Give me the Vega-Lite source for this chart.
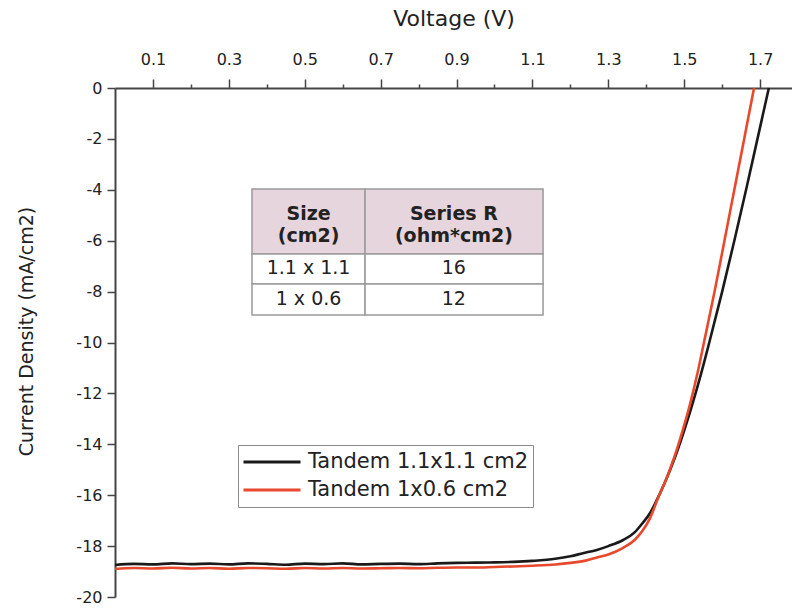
{
  "$schema": "https://vega.github.io/schema/vega-lite/v6.json",
  "width": 677,
  "height": 509,
  "autosize": {"type": "none"},
  "padding": {"left": 115, "top": 88, "right": 0, "bottom": 11},
  "background": "white",
  "config": {"view": {"stroke": null}, "font": "DejaVu Sans"},
  "datasets": {
    "curves": [
      {"s": "Tandem 1.1x1.1 cm2", "v": 0.0, "j": -18.74},
      {"s": "Tandem 1.1x1.1 cm2", "v": 0.05, "j": -18.7},
      {"s": "Tandem 1.1x1.1 cm2", "v": 0.1, "j": -18.72},
      {"s": "Tandem 1.1x1.1 cm2", "v": 0.15, "j": -18.68},
      {"s": "Tandem 1.1x1.1 cm2", "v": 0.2, "j": -18.71},
      {"s": "Tandem 1.1x1.1 cm2", "v": 0.25, "j": -18.69},
      {"s": "Tandem 1.1x1.1 cm2", "v": 0.3, "j": -18.72},
      {"s": "Tandem 1.1x1.1 cm2", "v": 0.35, "j": -18.68},
      {"s": "Tandem 1.1x1.1 cm2", "v": 0.4, "j": -18.7},
      {"s": "Tandem 1.1x1.1 cm2", "v": 0.45, "j": -18.73},
      {"s": "Tandem 1.1x1.1 cm2", "v": 0.5, "j": -18.69},
      {"s": "Tandem 1.1x1.1 cm2", "v": 0.55, "j": -18.71},
      {"s": "Tandem 1.1x1.1 cm2", "v": 0.6, "j": -18.68},
      {"s": "Tandem 1.1x1.1 cm2", "v": 0.65, "j": -18.72},
      {"s": "Tandem 1.1x1.1 cm2", "v": 0.7, "j": -18.7},
      {"s": "Tandem 1.1x1.1 cm2", "v": 0.75, "j": -18.69},
      {"s": "Tandem 1.1x1.1 cm2", "v": 0.8, "j": -18.71},
      {"s": "Tandem 1.1x1.1 cm2", "v": 0.85, "j": -18.68},
      {"s": "Tandem 1.1x1.1 cm2", "v": 0.9, "j": -18.66},
      {"s": "Tandem 1.1x1.1 cm2", "v": 0.95, "j": -18.65},
      {"s": "Tandem 1.1x1.1 cm2", "v": 1.0, "j": -18.64},
      {"s": "Tandem 1.1x1.1 cm2", "v": 1.05, "j": -18.62},
      {"s": "Tandem 1.1x1.1 cm2", "v": 1.1, "j": -18.58},
      {"s": "Tandem 1.1x1.1 cm2", "v": 1.16, "j": -18.5},
      {"s": "Tandem 1.1x1.1 cm2", "v": 1.2, "j": -18.4},
      {"s": "Tandem 1.1x1.1 cm2", "v": 1.233, "j": -18.28},
      {"s": "Tandem 1.1x1.1 cm2", "v": 1.27, "j": -18.15},
      {"s": "Tandem 1.1x1.1 cm2", "v": 1.3, "j": -18.0},
      {"s": "Tandem 1.1x1.1 cm2", "v": 1.339, "j": -17.76},
      {"s": "Tandem 1.1x1.1 cm2", "v": 1.37, "j": -17.45},
      {"s": "Tandem 1.1x1.1 cm2", "v": 1.39, "j": -17.1},
      {"s": "Tandem 1.1x1.1 cm2", "v": 1.41, "j": -16.7},
      {"s": "Tandem 1.1x1.1 cm2", "v": 1.424, "j": -16.3},
      {"s": "Tandem 1.1x1.1 cm2", "v": 1.449, "j": -15.5},
      {"s": "Tandem 1.1x1.1 cm2", "v": 1.476, "j": -14.5},
      {"s": "Tandem 1.1x1.1 cm2", "v": 1.499, "j": -13.5},
      {"s": "Tandem 1.1x1.1 cm2", "v": 1.52, "j": -12.5},
      {"s": "Tandem 1.1x1.1 cm2", "v": 1.543, "j": -11.3},
      {"s": "Tandem 1.1x1.1 cm2", "v": 1.566, "j": -10.0},
      {"s": "Tandem 1.1x1.1 cm2", "v": 1.6, "j": -8.0},
      {"s": "Tandem 1.1x1.1 cm2", "v": 1.632, "j": -6.0},
      {"s": "Tandem 1.1x1.1 cm2", "v": 1.663, "j": -4.0},
      {"s": "Tandem 1.1x1.1 cm2", "v": 1.693, "j": -2.0},
      {"s": "Tandem 1.1x1.1 cm2", "v": 1.723, "j": 0.0},
      {"s": "Tandem 1x0.6 cm2", "v": 0.0, "j": -18.9},
      {"s": "Tandem 1x0.6 cm2", "v": 0.05, "j": -18.86},
      {"s": "Tandem 1x0.6 cm2", "v": 0.1, "j": -18.88},
      {"s": "Tandem 1x0.6 cm2", "v": 0.15, "j": -18.85},
      {"s": "Tandem 1x0.6 cm2", "v": 0.2, "j": -18.88},
      {"s": "Tandem 1x0.6 cm2", "v": 0.25, "j": -18.86},
      {"s": "Tandem 1x0.6 cm2", "v": 0.3, "j": -18.89},
      {"s": "Tandem 1x0.6 cm2", "v": 0.35, "j": -18.86},
      {"s": "Tandem 1x0.6 cm2", "v": 0.4, "j": -18.87},
      {"s": "Tandem 1x0.6 cm2", "v": 0.45, "j": -18.89},
      {"s": "Tandem 1x0.6 cm2", "v": 0.5, "j": -18.86},
      {"s": "Tandem 1x0.6 cm2", "v": 0.55, "j": -18.88},
      {"s": "Tandem 1x0.6 cm2", "v": 0.6, "j": -18.86},
      {"s": "Tandem 1x0.6 cm2", "v": 0.65, "j": -18.88},
      {"s": "Tandem 1x0.6 cm2", "v": 0.7, "j": -18.87},
      {"s": "Tandem 1x0.6 cm2", "v": 0.75, "j": -18.86},
      {"s": "Tandem 1x0.6 cm2", "v": 0.8, "j": -18.87},
      {"s": "Tandem 1x0.6 cm2", "v": 0.85, "j": -18.85},
      {"s": "Tandem 1x0.6 cm2", "v": 0.9, "j": -18.84},
      {"s": "Tandem 1x0.6 cm2", "v": 0.95, "j": -18.84},
      {"s": "Tandem 1x0.6 cm2", "v": 1.0, "j": -18.82},
      {"s": "Tandem 1x0.6 cm2", "v": 1.05, "j": -18.8},
      {"s": "Tandem 1x0.6 cm2", "v": 1.1, "j": -18.77},
      {"s": "Tandem 1x0.6 cm2", "v": 1.16, "j": -18.72},
      {"s": "Tandem 1x0.6 cm2", "v": 1.2, "j": -18.66},
      {"s": "Tandem 1x0.6 cm2", "v": 1.24, "j": -18.57},
      {"s": "Tandem 1x0.6 cm2", "v": 1.27, "j": -18.45},
      {"s": "Tandem 1x0.6 cm2", "v": 1.3, "j": -18.33},
      {"s": "Tandem 1x0.6 cm2", "v": 1.339, "j": -18.07},
      {"s": "Tandem 1x0.6 cm2", "v": 1.37, "j": -17.75},
      {"s": "Tandem 1x0.6 cm2", "v": 1.39, "j": -17.4},
      {"s": "Tandem 1x0.6 cm2", "v": 1.41, "j": -16.9},
      {"s": "Tandem 1x0.6 cm2", "v": 1.43, "j": -16.15},
      {"s": "Tandem 1x0.6 cm2", "v": 1.453, "j": -15.35},
      {"s": "Tandem 1x0.6 cm2", "v": 1.474, "j": -14.5},
      {"s": "Tandem 1x0.6 cm2", "v": 1.495, "j": -13.5},
      {"s": "Tandem 1x0.6 cm2", "v": 1.514, "j": -12.5},
      {"s": "Tandem 1x0.6 cm2", "v": 1.535, "j": -11.2},
      {"s": "Tandem 1x0.6 cm2", "v": 1.552, "j": -10.0},
      {"s": "Tandem 1x0.6 cm2", "v": 1.58, "j": -8.0},
      {"s": "Tandem 1x0.6 cm2", "v": 1.606, "j": -6.0},
      {"s": "Tandem 1x0.6 cm2", "v": 1.632, "j": -4.0},
      {"s": "Tandem 1x0.6 cm2", "v": 1.658, "j": -2.0},
      {"s": "Tandem 1x0.6 cm2", "v": 1.684, "j": 0.0}
    ],
    "cells": [
      {"part": "header", "va": 0.361, "vb": 0.659, "ja": -3.97, "jb": -6.52},
      {"part": "header", "va": 0.659, "vb": 1.128, "ja": -3.97, "jb": -6.52},
      {"part": "body", "va": 0.361, "vb": 0.659, "ja": -6.52, "jb": -7.7},
      {"part": "body", "va": 0.659, "vb": 1.128, "ja": -6.52, "jb": -7.7},
      {"part": "body", "va": 0.361, "vb": 0.659, "ja": -7.7, "jb": -8.92},
      {"part": "body", "va": 0.659, "vb": 1.128, "ja": -7.7, "jb": -8.92}
    ],
    "texts": [
      {"part": "header", "label": "Size\n(cm2)", "v": 0.51, "j": -4.94},
      {"part": "header", "label": "Series R\n(ohm*cm2)", "v": 0.893, "j": -4.94},
      {"part": "body", "label": "1.1 x 1.1", "v": 0.51, "j": -7.08},
      {"part": "body", "label": "16", "v": 0.893, "j": -7.08},
      {"part": "body", "label": "1 x 0.6", "v": 0.51, "j": -8.28},
      {"part": "body", "label": "12", "v": 0.893, "j": -8.28}
    ]
  },
  "layer": [
    {
      "data": {"name": "curves"},
      "mark": {"type": "line", "strokeWidth": 2.6, "interpolate": "monotone"},
      "encoding": {
        "x": {
          "field": "v", "type": "quantitative",
          "scale": {"domain": [0, 1.784], "nice": false, "zero": false},
          "axis": {
            "orient": "top", "title": "Voltage (V)",
            "values": [0.1, 0.2, 0.3, 0.4, 0.5, 0.6, 0.7, 0.8, 0.9, 1.0, 1.1, 1.2, 1.3, 1.4, 1.5, 1.6, 1.7],
            "labelExpr": "round(datum.value*10) % 2 == 1 ? format(datum.value, '.1f') : ''",
            "tickSize": {"condition": {"test": "round(datum.value*10) % 2 == 1", "value": 9}, "value": 4},
            "grid": false, "labelOverlap": false, "labelFlush": false, "labelBound": false,
            "domainColor": "#444", "domainWidth": 2, "tickColor": "#444", "tickWidth": 1.5,
            "labelFontSize": 16, "labelColor": "#222", "labelPadding": 12,
            "titleFontSize": 22, "titleFontWeight": "normal", "titleColor": "#222", "titlePadding": 21
          }
        },
        "y": {
          "field": "j", "type": "quantitative",
          "scale": {"domain": [-20, 0], "nice": false, "zero": false},
          "axis": {
            "title": "Current Density (mA/cm2)",
            "values": [-20, -19, -18, -17, -16, -15, -14, -13, -12, -11, -10, -9, -8, -7, -6, -5, -4, -3, -2, -1, 0],
            "labelExpr": "datum.value % 2 == 0 ? toString(datum.value) : ''",
            "tickSize": {"condition": {"test": "datum.value % 2 != 0", "value": 4}, "value": 8},
            "grid": false, "labelOverlap": false, "labelFlush": false, "labelBound": false,
            "domainColor": "#444", "domainWidth": 2, "tickColor": "#444", "tickWidth": 1.5,
            "labelFontSize": 16, "labelColor": "#222", "labelPadding": 5,
            "titleFontSize": 19, "titleFontWeight": "normal", "titleColor": "#222", "titlePadding": 39,
            "titleY": 243
          }
        },
        "color": {
          "field": "s", "type": "nominal",
          "scale": {"domain": ["Tandem 1.1x1.1 cm2", "Tandem 1x0.6 cm2"], "range": ["#1a1a1a", "#e8482c"]},
          "legend": {
            "orient": "none", "legendX": 123, "legendY": 357, "title": null,
            "symbolType": "stroke", "symbolSize": 3249, "symbolStrokeWidth": 3,
            "clipHeight": 26, "rowPadding": 2, "padding": 4,
            "strokeColor": "#8a8a8a", "fillColor": "white",
            "labelFontSize": 21, "labelOffset": 6, "labelColor": "#222", "labelLimit": 400
          }
        }
      }
    },
    {
      "data": {"name": "cells"},
      "mark": {"type": "rect", "stroke": "#9a9a9a", "strokeWidth": 1.5},
      "encoding": {
        "x": {"field": "va", "type": "quantitative"},
        "x2": {"field": "vb"},
        "y": {"field": "ja", "type": "quantitative"},
        "y2": {"field": "jb"},
        "fill": {"condition": {"test": "datum.part == 'header'", "value": "#e6d5dc"}, "value": "white"}
      }
    },
    {
      "data": {"name": "texts"},
      "transform": [{"filter": "datum.part == 'header'"}],
      "mark": {"type": "text", "fontSize": 19, "fontWeight": "bold", "color": "#222", "lineBreak": "\n", "lineHeight": 22, "align": "center", "baseline": "middle"},
      "encoding": {
        "x": {"field": "v", "type": "quantitative"},
        "y": {"field": "j", "type": "quantitative"},
        "text": {"field": "label"}
      }
    },
    {
      "data": {"name": "texts"},
      "transform": [{"filter": "datum.part == 'body'"}],
      "mark": {"type": "text", "fontSize": 19, "color": "#222", "align": "center", "baseline": "middle"},
      "encoding": {
        "x": {"field": "v", "type": "quantitative"},
        "y": {"field": "j", "type": "quantitative"},
        "text": {"field": "label"}
      }
    }
  ]
}
